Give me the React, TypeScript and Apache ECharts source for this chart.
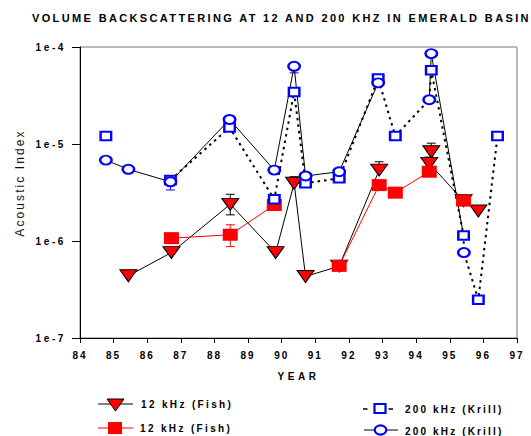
import React, { useEffect, useRef } from "react";
import * as echarts from "echarts";

const FONT = '"Liberation Sans", Arial, sans-serif';

// Year ticks and log tick labels
const yearMin = 84;
const yearMax = 97;
const logMin = 1e-7;
const logMax = 1e-4;

// 12 kHz (Fish) – red down-triangles, black line  [year, value]
const fishTriangles: (number | null)[][] = [
  [85.44, 4.38e-7], [86.72, 7.6e-7], [88.47, 2.39e-6], [89.82, 7.6e-7],
  [90.37, 3.94e-6], [90.71, 4.31e-7], [91.71, 5.5e-7], [92.9, 5.38e-6],
  [93.5, null], [94.45, 8.32e-6], [94.39, 6.31e-6], [95.41, 2.6e-6], [95.85, 2.04e-6],
];

// 12 kHz (Fish) – red filled squares, red line
const fishSquares: (number | null)[][] = [
  [86.72, 1.07e-6], [88.47, 1.16e-6], [89.78, 2.35e-6], [90.7, null],
  [91.71, 5.54e-7], [92.9, 3.77e-6], [93.38, 3.15e-6], [94.39, 5.18e-6],
  [95.0, null], [95.41, 2.61e-6],
];

// 200 kHz (Krill) – blue open squares, dotted line
const krillSquares: (number | null)[][] = [
  [84.77, 1.21e-5], [85.4, null], [86.69, 4.26e-6], [88.45, 1.48e-5],
  [89.78, 2.69e-6], [90.37, 3.44e-5], [90.71, 3.94e-6], [91.71, 4.43e-6],
  [92.87, 4.73e-5], [93.38, 1.21e-5], [94.39, 2.86e-5], [94.45, 5.75e-5],
  [95.41, 1.14e-6], [95.42, 7.6e-7], [95.85, 2.48e-7], [96.42, 1.21e-5],
];
const krillSquaresNoMarker = [10, 13];

// 200 kHz (Krill) – blue open circles, solid line
const krillCircles: (number | null)[][] = [
  [84.77, 6.82e-6], [85.44, 5.48e-6], [86.69, 4.08e-6], [88.45, 1.79e-5],
  [89.78, 5.38e-6], [90.37, 6.33e-5], [90.71, 4.68e-6], [91.71, 5.18e-6],
  [92.87, 4.27e-5], [93.5, null], [94.39, 2.86e-5], [94.45, 8.55e-5],
  [95.41, 1.14e-6], [95.415, null], [95.42, 7.6e-7],
];
const krillCirclesNoMarker = [12];

// Error bars [year, low, high]
const fishTriErr = [
  [88.47, 1.86e-6, 3.03e-6], [90.37, 3.94e-6, 4.6e-6], [92.9, 5.38e-6, 6.56e-6],
  [94.45, 8.32e-6, 1.02e-5], [94.39, 6.31e-6, 7.33e-6],
];
const fishSqErr = [[88.47, 8.75e-7, 1.47e-6]];
const krillCircErr = [[86.69, 3.36e-6, 4.08e-6], [90.37, 5.41e-5, 6.33e-5]];

const ELLIPSE = "path://M0,50 A50,50 0 1,1 100,50 A50,50 0 1,1 0,50 Z";

function withHidden(data: (number | null)[][], hidden: number[]) {
  return data.map((d, i) =>
    hidden.includes(i) ? { value: d, symbol: "none" } : d
  );
}

function errSeries(data: number[][], color: string) {
  return {
    type: "custom",
    data,
    encode: { x: 0, y: [1, 2] },
    silent: true,
    renderItem: (params: any, api: any) => {
      const x = api.value(0);
      const p1 = api.coord([x, api.value(1)]);
      const p2 = api.coord([x, api.value(2)]);
      const cap = 4.5;
      const style = { stroke: color, lineWidth: 1 };
      return {
        type: "group",
        children: [
          { type: "line", shape: { x1: p1[0], y1: p1[1], x2: p2[0], y2: p2[1] }, style },
          { type: "line", shape: { x1: p1[0] - cap, y1: p1[1], x2: p1[0] + cap, y2: p1[1] }, style },
          { type: "line", shape: { x1: p2[0] - cap, y1: p2[1], x2: p2[0] + cap, y2: p2[1] }, style },
        ],
      };
    },
  };
}

const legendFont = { fontSize: 10, fontWeight: "bold", fontFamily: FONT, fill: "#000" };

export default function App() {
  const ref = useRef<HTMLDivElement>(null);
  useEffect(() => {
    if (!ref.current) return;
    const el = ref.current;
    const chart = echarts.init(el, undefined, { renderer: "svg" });
    chart.setOption({
      animation: false,
      backgroundColor: "#fff",
      title: {
        text: "VOLUME BACKSCATTERING AT 12 AND 200 KHZ IN EMERALD BASIN",
        left: 32,
        top: 12,
        padding: 0,
        textStyle: { fontSize: 11, fontWeight: "bold", fontFamily: FONT, color: "#000" },
      },
      grid: {
        left: 80, right: 14, top: 47, bottom: 98,
        show: true, borderColor: "#777", borderWidth: 1, backgroundColor: "transparent",
      },
      xAxis: {
        type: "value",
        min: yearMin,
        max: yearMax,
        interval: 1,
        name: "YEAR",
        nameLocation: "middle",
        nameGap: 33,
        nameTextStyle: { fontSize: 10, fontWeight: "bold", fontFamily: FONT, color: "#000" },
        axisLine: { show: true, lineStyle: { color: "#000", width: 1 } },
        axisTick: { show: true, length: 5, lineStyle: { color: "#000" } },
        axisLabel: { fontSize: 10, fontWeight: "bold", fontFamily: FONT, color: "#000", margin: 12 },
        splitLine: { show: false },
      },
      yAxis: {
        type: "log",
        logBase: 10,
        min: logMin,
        max: logMax,
        axisLine: { show: true, lineStyle: { color: "#000", width: 1 } },
        axisTick: { show: true, length: 8, lineStyle: { color: "#000" } },
        minorTick: { show: false },
        axisLabel: {
          fontSize: 10, fontWeight: "bold", fontFamily: FONT, color: "#000", margin: 14,
          formatter: (v: number) => "1e" + Math.round(Math.log10(v)),
        },
        splitLine: { show: false },
      },
      graphic: [
        {
          type: "text", x: 20, y: 183, rotation: Math.PI / 2,
          style: { text: "Acoustic Index", align: "center", verticalAlign: "middle", fontSize: 12, fontFamily: FONT, fill: "#111" },
        },
        // legend row 1 left
        { type: "line", shape: { x1: 98, y1: 404, x2: 133, y2: 404 }, style: { stroke: "#000", lineWidth: 1 } },
        { type: "polygon", shape: { points: [[107, 399], [124, 399], [115.5, 411]] }, style: { fill: "#ff0000", stroke: "#000", lineWidth: 1 } },
        { type: "text", x: 141, y: 404, style: { text: "12 kHz (Fish)", verticalAlign: "middle", ...legendFont } },
        // legend row 2 left
        { type: "line", shape: { x1: 98, y1: 428, x2: 133, y2: 428 }, style: { stroke: "#ff0000", lineWidth: 1 } },
        { type: "rect", shape: { x: 108, y: 422, width: 14, height: 12 }, style: { fill: "#ff0000" } },
        { type: "text", x: 140, y: 428, style: { text: "12 kHz (Fish)", verticalAlign: "middle", ...legendFont } },
        // legend row 1 right
        { type: "line", shape: { x1: 363, y1: 409, x2: 367.5, y2: 409 }, style: { stroke: "#000", lineWidth: 1.5 } },
        { type: "line", shape: { x1: 388.5, y1: 409, x2: 393, y2: 409 }, style: { stroke: "#000", lineWidth: 1.5 } },
        { type: "rect", shape: { x: 374.5, y: 404, width: 11, height: 9 }, style: { fill: "#fff", stroke: "#0000ff", lineWidth: 2.2 } },
        { type: "text", x: 405, y: 409, style: { text: "200 kHz (Krill)", verticalAlign: "middle", ...legendFont } },
        // legend row 2 right
        { type: "line", shape: { x1: 364, y1: 430, x2: 398, y2: 430 }, style: { stroke: "#000", lineWidth: 1 } },
        { type: "ellipse", shape: { cx: 380.5, cy: 430, rx: 5.8, ry: 4.6 }, style: { fill: "#fff", stroke: "#0000ff", lineWidth: 2.2 } },
        { type: "text", x: 405, y: 431, style: { text: "200 kHz (Krill)", verticalAlign: "middle", ...legendFont } },
      ],
      series: [
        errSeries(fishTriErr, "#000"),
        errSeries(fishSqErr, "#ff0000"),
        errSeries(krillCircErr, "#0000ff"),
        {
          type: "line",
          name: "12 kHz (Fish) triangles",
          data: fishTriangles,
          connectNulls: false,
          symbol: "triangle",
          symbolRotate: 180,
          symbolSize: [17, 12],
          itemStyle: { color: "#ff0000", borderColor: "#000", borderWidth: 1 },
          lineStyle: { color: "#000", width: 1 },
        },
        {
          type: "line",
          name: "12 kHz (Fish) squares",
          data: fishSquares,
          connectNulls: false,
          symbol: "rect",
          symbolSize: [15, 12],
          itemStyle: { color: "#ff0000", borderWidth: 0 },
          lineStyle: { color: "#ff0000", width: 1 },
        },
        {
          type: "line",
          name: "200 kHz (Krill) squares",
          data: withHidden(krillSquares, krillSquaresNoMarker),
          connectNulls: false,
          symbol: "rect",
          symbolSize: [10.5, 8.5],
          itemStyle: { color: "#fff", borderColor: "#0000ff", borderWidth: 2.2 },
          lineStyle: { color: "#000", width: 2, type: [2.5, 4] },
        },
        {
          type: "line",
          name: "200 kHz (Krill) circles",
          data: withHidden(krillCircles, krillCirclesNoMarker),
          connectNulls: false,
          symbol: ELLIPSE,
          symbolSize: [11.5, 9],
          itemStyle: { color: "#fff", borderColor: "#0000ff", borderWidth: 2.2 },
          lineStyle: { color: "#000", width: 1 },
        },
      ],
    });

    const applySpacing = () => {
      el.querySelectorAll("text").forEach((t) => {
        const s = (t.textContent || "").trim();
        let ls = 2.35;
        if (s === "YEAR") ls = 3.5;
        else if (s === "Acoustic Index") ls = 2.1;
        else if (s.startsWith("VOLUME")) ls = 2.36;
        else if (/^1e/.test(s)) ls = 2.6;
        else if (/^\d\d$/.test(s)) ls = 2;
        else if (s.startsWith("200")) ls = 2.15;
        (t as SVGTextElement).style.letterSpacing = ls + "px";
      });
    };
    applySpacing();
    chart.on("finished", applySpacing);

    return () => {
      chart.dispose();
    };
  }, []);

  return (
    <div
      ref={ref}
      style={{ position: "absolute", left: 0, top: 0, width: 531, height: 436 }}
    />
  );
}
